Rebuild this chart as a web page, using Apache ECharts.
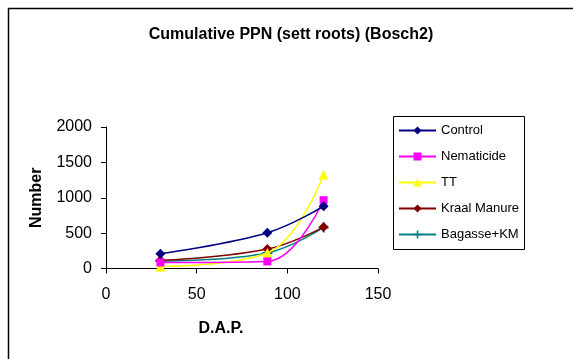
<!DOCTYPE html>
<html><head><meta charset="utf-8">
<script src="https://cdn.jsdelivr.net/npm/echarts@6/dist/echarts.min.js"></script>
<style>html,body{margin:0;padding:0;background:#fff}#c{width:573px;height:359px}</style>
</head><body><div id="c"></div>
<script>
const days = [30, 89, 120];
const control = [210, 505, 880];
const nematicide = [85, 100, 965];
const tt = [30, 220, 1325];
const kraal = [115, 275, 585];
const bagasse = [105, 220, 580];
const seriesNames = ['Control', 'Nematicide', 'TT', 'Kraal Manure', 'Bagasse+KM'];
const xTicks = [0, 50, 100, 150];
const yTicks = [0, 500, 1000, 1500, 2000];

const plus = 'path://M4,0 L6,0 L6,4 L10,4 L10,6 L6,6 L6,10 L4,10 L4,6 L0,6 L0,4 L4,4 Z';
const styles = [
  {color: '#000080', symbol: 'diamond', size: 10},
  {color: '#FF00FF', symbol: 'rect', size: 8},
  {color: '#FFFF00', symbol: 'triangle', size: 10},
  {color: '#800000', symbol: 'diamond', size: 10},
  {color: '#008080', symbol: plus, size: 10}
];
const values = [control, nematicide, tt, kraal, bagasse];
const FONT = 'Liberation Sans, Arial, sans-serif';
const chart = echarts.init(document.getElementById('c'), null, {renderer: 'canvas'});
const series = values.map((v, i) => ({
  name: seriesNames[i],
  type: 'line',
  data: v.map((y, j) => [days[j], y]),
  smooth: 0.4,
  symbol: styles[i].symbol,
  symbolSize: styles[i].size,
  itemStyle: {color: styles[i].color},
  lineStyle: {color: styles[i].color, width: 1.5},
  z: 10 - i
}));
chart.setOption({
  animation: false,
  backgroundColor: '#fff',
  title: {
    text: 'Cumulative PPN (sett roots) (Bosch2)',
    left: 286, top: 22, textAlign: 'center',
    textStyle: {fontFamily: FONT, fontSize: 16, fontWeight: 'bold', color: '#000'}
  },
  graphic: [
    {type: 'rect', shape: {x: 8.5, y: 8.5, width: 620, height: 420}, style: {fill: 'none', stroke: '#000', lineWidth: 1.5}, z: 0},
    {type: 'rect', shape: {x: 393.5, y: 116.5, width: 131, height: 133}, style: {fill: 'none', stroke: '#000', lineWidth: 1}, z: 0}
  ],
  legend: {
    orient: 'vertical',
    left: 398, top: 124, padding: 0,
    itemWidth: 37, itemHeight: 10, itemGap: 13,
    textStyle: {fontFamily: FONT, fontSize: 13, color: '#000'},
    data: seriesNames
  },
  grid: {left: 106, right: 195, top: 127, bottom: 90.5, containLabel: false},
  xAxis: {
    type: 'value', min: 0, max: 150, interval: 50,
    name: 'D.A.P.', nameLocation: 'middle', nameGap: 52,
    nameTextStyle: {fontFamily: FONT, fontSize: 16, fontWeight: 'bold', color: '#000', padding: [0, 42, 0, 0]},
    axisLine: {lineStyle: {color: '#000', width: 1}},
    axisTick: {show: true, length: 5, lineStyle: {color: '#000'}},
    axisLabel: {fontFamily: FONT, fontSize: 16, color: '#000', margin: 18},
    splitLine: {show: false}
  },
  yAxis: {
    type: 'value', min: 0, max: 2000, interval: 500,
    name: 'Number', nameLocation: 'middle', nameGap: 61, nameRotate: 90,
    nameTextStyle: {fontFamily: FONT, fontSize: 16, fontWeight: 'bold', color: '#000'},
    axisLine: {show: true, lineStyle: {color: '#000', width: 1}},
    axisTick: {show: true, length: 5, lineStyle: {color: '#000'}},
    axisLabel: {fontFamily: FONT, fontSize: 16, color: '#000', margin: 14, formatter: v => String(v)},
    splitLine: {show: false}
  },
  series: series
});
</script></body></html>
